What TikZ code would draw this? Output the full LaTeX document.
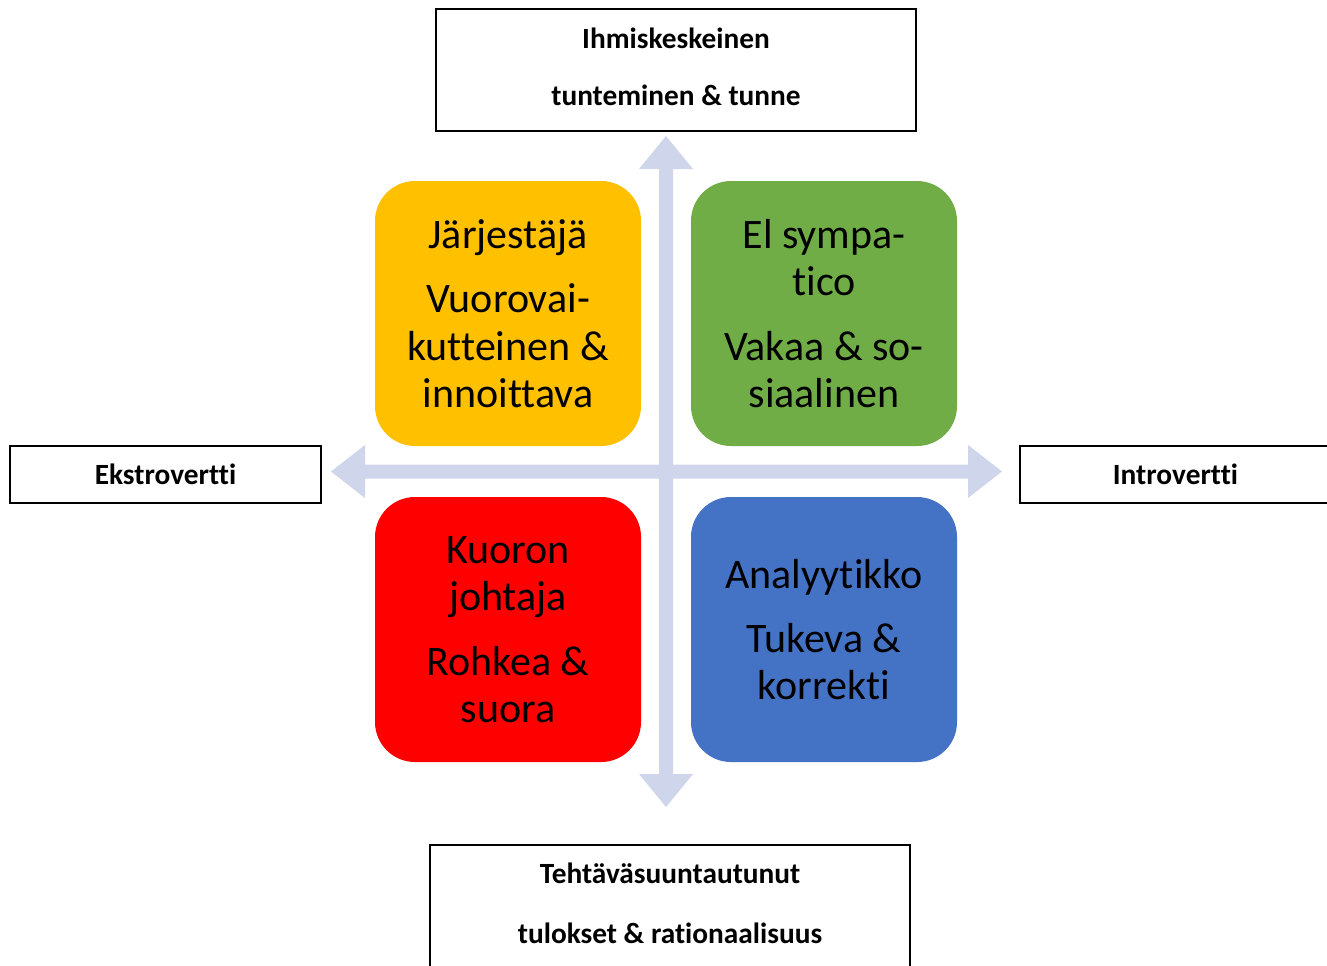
\documentclass[tikz,border=0pt]{standalone}
\usepackage{fontspec}
\setmainfont[Ligatures={NoCommon}]{Carlito}
\definecolor{arrowc}{HTML}{CFD5EA}
\definecolor{qyellow}{HTML}{FFC000}
\definecolor{qgreen}{HTML}{70AD47}
\definecolor{qred}{HTML}{FF0000}
\definecolor{qblue}{HTML}{4472C4}
\tikzset{
  labelbox/.style={draw=black, line width=1.5pt, fill=white, inner sep=0pt, align=center,
    font=\fontsize{22}{27}\selectfont\bfseries},
  quad/.style={rounded corners=30pt, inner sep=0pt, minimum width=199.5pt, minimum height=198.75pt,
    align=center, text=black, font=\fontsize{31.5}{35.3}\selectfont},
  axisarrow/.style={fill=arrowc, draw=none}
}
\begin{document}
\begin{tikzpicture}[x=0.75pt, y=-0.75pt]
\clip (0,0) rectangle (1327,965);
\fill[white] (0,0) rectangle (1327,965);
% arrows
\fill[axisarrow] (666,136) -- (693,169) -- (673,169) -- (673,774) -- (693,774) -- (666,807)
  -- (639,774) -- (659,774) -- (659,169) -- (639,169) -- cycle;
\fill[axisarrow] (331,471.5) -- (365,445) -- (365,464.5) -- (968,464.5) -- (968,445) -- (1002,471.5)
  -- (968,498) -- (968,478.5) -- (365,478.5) -- (365,498) -- cycle;
% label boxes
\node[labelbox, minimum width=360pt, minimum height=91.5pt] (top) at (676,70) {};
\node[font=\fontsize{22}{27}\selectfont\bfseries, align=center, inner sep=0pt] (toptext) at (676,67)
  {Ihmiskeskeinen\\[15.75pt]tunteminen \& tunne};
\node[labelbox, minimum width=360pt, minimum height=91.5pt] (bottom) at (670,906) {};
\node[font=\fontsize{22}{27}\selectfont\bfseries, align=center, inner sep=0pt] (bottomtext) at (670,903)
  {Tehtäväsuuntautunut\\[18pt]tulokset \& rationaalisuus};
\node[labelbox, minimum width=233.25pt, minimum height=42.75pt] (left) at (165.5,474.5) {Ekstrovertti};
\node[labelbox, minimum width=233.25pt, minimum height=42.75pt] (right) at (1175.5,474.5) {Introvertti};
% quadrants
\node[quad, fill=qyellow] (q1) at (508,313.5) {Järjestäjä\\[13pt]Vuorovai-\\kutteinen \&\\innoittava};
\node[quad, fill=qgreen] (q2) at (824,313.5) {El sympa-\\tico\\[13pt]Vakaa \& so-\\siaalinen};
\node[quad, fill=qred] (q3) at (508,629.5) {Kuoron\\johtaja\\[13pt]Rohkea \&\\suora};
\node[quad, fill=qblue] (q4) at (824,629.5) {Analyytikko\\[13pt]Tukeva \&\\korrekti};
\end{tikzpicture}
\end{document}
